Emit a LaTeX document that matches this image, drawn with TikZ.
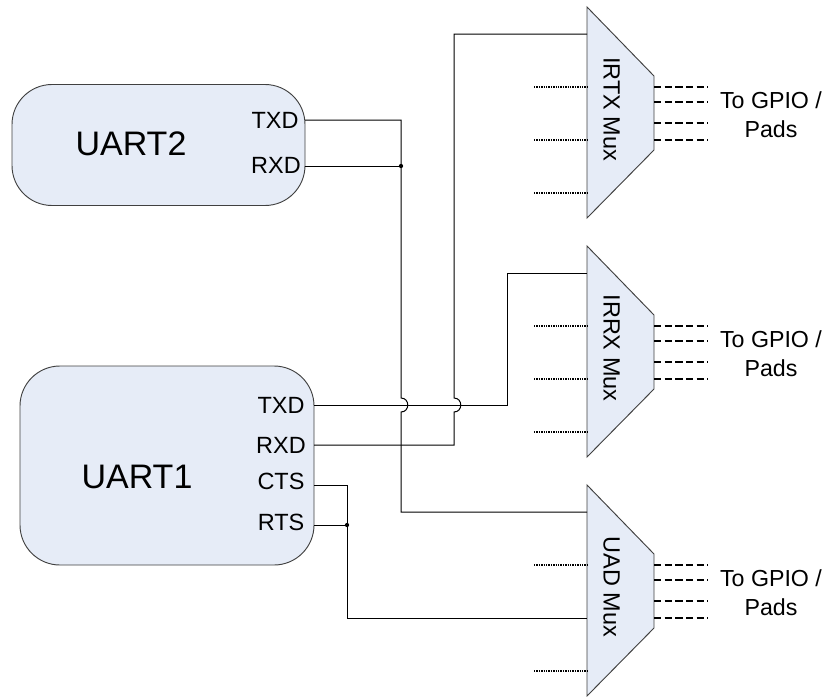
\documentclass[tikz,border=0pt]{standalone}
\usepackage{fontspec}
\setmainfont{Liberation Sans}
\definecolor{boxfill}{HTML}{E6ECF7}
\definecolor{boxline}{HTML}{404040}
\tikzset{
  uartbox/.style = {draw = boxline, line width = 0.7pt, fill = boxfill, rounded corners = 30pt, inner sep = 0pt},
  wire/.style = {line width = 0.75pt, black},
  stubline/.style = {line width = 0.8pt, dash pattern = on 1.1pt off 0.7pt},
  padline/.style = {line width = 0.8pt, dash pattern = on 5.6pt off 2.4pt},
  joint/.style = {fill = black, circle, inner sep = 0pt, minimum size = 3.2pt},
  portlabel/.style = {font = \fontsize{17.6}{17.6}\selectfont, text height = 12.6pt, text depth = 0pt, inner sep = 0pt},
  uartlabel/.style = {font = \fontsize{25.5}{25.5}\selectfont, text height = 18.3pt, text depth = 0pt, inner sep = 0pt},
  padlabel/.style = {font = \fontsize{17.4}{22}\selectfont, align = center, inner sep = 0pt},
  pics/muxblock/.style = {code = {
    \draw[draw = boxline, line width = 0.7pt, fill = boxfill] (587,7)--(654,76)--(654,150)--(587,218)--cycle;
    \node[portlabel, rotate = -90] (-name) at (612,109) {#1};
    \coordinate (-in) at (587,34);
    \coordinate (-sa) at (534,87);
    \coordinate (-ma) at (587,87);
    \coordinate (-sb) at (534,140);
    \coordinate (-mb) at (587,140);
    \coordinate (-sc) at (534,193);
    \coordinate (-mc) at (587,193);
    \draw[stubline] (-sa)--(-ma);
    \draw[stubline] (-sc)--(-mc);
    \coordinate (-oa) at (654,87);
    \coordinate (-pa) at (708,87);
    \coordinate (-ob) at (654,102);
    \coordinate (-pb) at (708,102);
    \coordinate (-oc) at (654,123);
    \coordinate (-pc) at (708,123);
    \coordinate (-od) at (654,140);
    \coordinate (-pd) at (708,140);
    \draw[padline] (-oa)--(-pa);
    \draw[padline] (-ob)--(-pb);
    \draw[padline] (-oc)--(-pc);
    \draw[padline] (-od)--(-pd);
    \node[padlabel] (-pads) at (771,115) {To GPIO /\\Pads};
  }}
}

\begin{document}
\begin{tikzpicture}[x = 0.75pt, y = -0.75pt]
\useasboundingbox (0,0) rectangle (830,696);
\node[uartbox, minimum width = 219.75pt, minimum height = 90.75pt] (uarttwo) at (158.5,145) {};
\node[uartbox, minimum width = 220.5pt, minimum height = 149.25pt] (uartone) at (167,465.5) {};
\node[uartlabel] (uarttwoname) at (131,143) {UART2};
\node[uartlabel] (uartonename) at (137,476) {UART1};
\node[portlabel] (txdtwo) at (275,120) {TXD};
\node[portlabel] (rxdtwo) at (276,165) {RXD};
\node[portlabel] (txdone) at (281,405) {TXD};
\node[portlabel] (rxdone) at (281,445) {RXD};
\node[portlabel] (ctsone) at (281,481) {CTS};
\node[portlabel] (rtsone) at (281,522) {RTS};
\pic (irtx) at (0,0) {muxblock = {IRTX Mux}};
\pic (irrx) at (0,239) {muxblock = {IRRX Mux}};
\pic (uad) at (0,478) {muxblock = {UAD Mux}};
\draw[stubline] (irtx-sb)--(irtx-mb);
\draw[stubline] (irrx-sb)--(irrx-mb);
\coordinate (tx2) at (305,120);
\coordinate (rx2) at (305,166);
\coordinate (tx1) at (314,405);
\coordinate (rx1) at (314,445);
\coordinate (cts1) at (314,485);
\coordinate (rts1) at (314,525);
\node[joint] (jointa) at (401,166) {};
\node[joint] (jointb) at (347,525) {};
\coordinate (hopa) at (401,398);
\coordinate (hopb) at (401,412);
\coordinate (hopc) at (454,398);
\coordinate (hopd) at (454,412);
\coordinate (bendc) at (507,405);
\draw[wire] (tx2) -| (hopa) .. controls (410,398) and (410,412) .. (hopb) |- (uad-in);
\draw[wire] (rx2) -- (jointa);
\draw[wire] (tx1) -- (bendc) |- (irrx-in);
\draw[wire] (rx1) -| (hopd) .. controls (463,412) and (463,398) .. (hopc) |- (irtx-in);
\draw[wire] (cts1) -| (jointb) |- (uad-mb);
\draw[wire] (rts1) -- (jointb);
\end{tikzpicture}
\end{document}
